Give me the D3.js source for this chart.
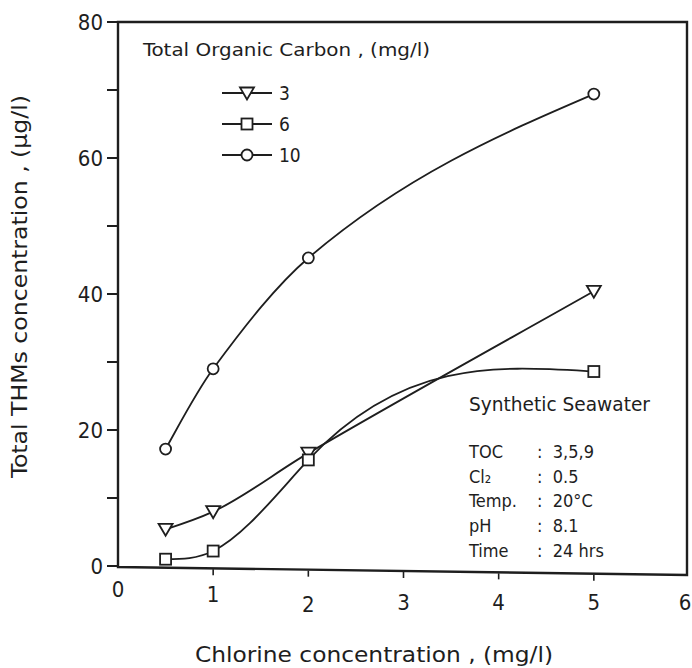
<!DOCTYPE html>
<html>
<head>
<meta charset="utf-8">
<script src="https://cdn.jsdelivr.net/npm/d3@7"></script>
<style>
  body { margin: 0; background: #fff; }
  text { font-family: "DejaVu Sans Condensed", "DejaVu Sans", sans-serif; fill: #1e1e1e; }
</style>
</head>
<body>
<script>
// data
let xTicks = [0, 1, 2, 3, 4, 5, 6];
let yTicks = [0, 20, 40, 60, 80];
let yMinor = [10, 30, 50, 70];
let seriesNames = ["3", "6", "10"];
let chlorine = [0.5, 1, 2, 5];
let toc3 = [5.4, 8.0, 16.6, 40.4];
let toc6 = [1.0, 2.2, 15.6, 28.6];
let toc10 = [17.2, 29.0, 45.3, 69.4];
// slope of the hand-drawn curve at each point (units of y per unit of x)
let toc3Slopes = [4.5, 6.5, 8.2, 7.9];
let toc6Slopes = [0, 7, 15, -0.8];
let toc10Slopes = [25, 19, 12, 6];
let infoTitle = "Synthetic Seawater";
let infoKeys = ["TOC", "Cl₂", "Temp.", "pH", "Time"];
let infoVals = [": 3,5,9", ": 0.5", ": 20°C", ": 8.1", ": 24 hrs"];

// layout
let svgWidth = 692, svgHeight = 668;
let x0 = 118, x1 = 689, yTop = 22, yBot = 566, frameRight = 687;
let botLeft = 567, botRight = 575; // the scanned frame is slightly tilted
let ink = "#1e1e1e";
// the scan has staggered x tick labels (baseline offsets below y = 0)
let xLabelDy = [31, 36, 46, 44, 44, 44, 44];

let svg = d3.select("body").append("svg")
  .attr("width", svgWidth)
  .attr("height", svgHeight);

let xScale = d3.scaleLinear().domain([0, 6]).range([x0, x1]);
let yScale = d3.scaleLinear().domain([0, 80]).range([yBot, yTop]);
let frameBottom = d3.scaleLinear().domain([x0, frameRight]).range([botLeft, botRight]);

// frame
svg.append("path")
  .attr("d", `M${x0},${yTop} H${frameRight} V${botRight} L${x0},${botLeft} Z`)
  .attr("fill", "none").attr("stroke", ink).attr("stroke-width", 2.4);

// y axis ticks
let yAxisG = svg.append("g");
yAxisG.selectAll("line").data(yTicks.concat(yMinor)).join("line")
  .attr("x1", x0 - 11).attr("x2", x0)
  .attr("y1", d => yScale(d)).attr("y2", d => yScale(d))
  .attr("stroke", ink).attr("stroke-width", 2);
yAxisG.selectAll("text").data(yTicks).join("text")
  .attr("x", x0 - 15)
  .attr("y", d => yScale(d) + 8)
  .attr("text-anchor", "end")
  .attr("font-size", 22)
  .text(d => d);

// x axis ticks
let xAxisG = svg.append("g");
xAxisG.selectAll("line").data(xTicks.slice(1, -1)).join("line")
  .attr("x1", d => xScale(d)).attr("x2", d => xScale(d))
  .attr("y1", d => frameBottom(xScale(d)) + 1).attr("y2", d => frameBottom(xScale(d)) + 7)
  .attr("stroke", ink).attr("stroke-width", 1.6);
xAxisG.selectAll("text").data(xTicks).join("text")
  .attr("x", d => Math.min(xScale(d), 685))
  .attr("y", (d, i) => yBot + xLabelDy[i])
  .attr("text-anchor", "middle")
  .attr("font-size", 22)
  .text(d => d);

// axis titles
svg.append("text")
  .attr("x", 195).attr("y", 662)
  .attr("font-size", 22)
  .attr("textLength", 358).attr("lengthAdjust", "spacingAndGlyphs")
  .text("Chlorine concentration , (mg/l)");
svg.append("text")
  .attr("transform", `translate(27, 478) rotate(-90)`)
  .attr("font-size", 21)
  .attr("textLength", 383).attr("lengthAdjust", "spacingAndGlyphs")
  .text("Total THMs concentration , (µg/l)");

// series
let series = [
  { name: seriesNames[0], values: toc3, slopes: toc3Slopes, marker: "tri" },
  { name: seriesNames[1], values: toc6, slopes: toc6Slopes, marker: "sq" },
  { name: seriesNames[2], values: toc10, slopes: toc10Slopes, marker: "circ" }
];

function drawMarker(g, kind) {
  if (kind === "tri") {
    g.append("path").attr("d", "M-7,-5.5 L7,-5.5 L0,6.5 Z");
  } else if (kind === "sq") {
    g.append("rect").attr("x", -5.5).attr("y", -5.5).attr("width", 11).attr("height", 11);
  } else {
    g.append("circle").attr("r", 5.5);
  }
  g.selectAll("*").attr("fill", "#fff").attr("stroke", ink).attr("stroke-width", 1.8);
}

// cubic Hermite through the points, using the given slopes
function hermitePath(xs, ys, ms) {
  let p = d3.path();
  p.moveTo(xScale(xs[0]), yScale(ys[0]));
  for (let i = 0; i < xs.length - 1; i++) {
    let h = xs[i + 1] - xs[i];
    p.bezierCurveTo(
      xScale(xs[i] + h / 3), yScale(ys[i] + ms[i] * h / 3),
      xScale(xs[i + 1] - h / 3), yScale(ys[i + 1] - ms[i + 1] * h / 3),
      xScale(xs[i + 1]), yScale(ys[i + 1]));
  }
  return p.toString();
}

series.forEach(s => {
  svg.append("path")
    .attr("d", hermitePath(chlorine, s.values, s.slopes))
    .attr("fill", "none")
    .attr("stroke", ink)
    .attr("stroke-width", 1.8);
});
series.forEach(s => {
  chlorine.forEach((c, i) => {
    let g = svg.append("g")
      .attr("transform", `translate(${xScale(c)}, ${yScale(s.values[i])})`);
    drawMarker(g, s.marker);
  });
});

// legend
let legend = svg.append("g");
legend.append("text")
  .attr("x", 143).attr("y", 56)
  .attr("font-size", 18)
  .attr("textLength", 287).attr("lengthAdjust", "spacingAndGlyphs")
  .text("Total Organic Carbon , (mg/l)");
series.forEach((s, i) => {
  let ly = 93 + i * 31;
  legend.append("line")
    .attr("x1", 222).attr("x2", 272)
    .attr("y1", ly).attr("y2", ly)
    .attr("stroke", ink).attr("stroke-width", 1.8);
  let g = legend.append("g").attr("transform", `translate(247, ${ly})`);
  drawMarker(g, s.marker);
  legend.append("text")
    .attr("x", 279).attr("y", ly + 7)
    .attr("font-size", 19)
    .text(s.name);
});

// conditions text
let info = svg.append("g");
info.append("text")
  .attr("x", 469).attr("y", 411)
  .attr("font-size", 20)
  .attr("textLength", 181).attr("lengthAdjust", "spacingAndGlyphs")
  .text(infoTitle);
infoKeys.forEach((k, i) => {
  let ty = 458 + i * 24.7;
  info.append("text").attr("x", 469).attr("y", ty)
    .attr("font-size", 18).text(k);
  info.append("text").attr("x", 537).attr("y", ty)
    .attr("font-size", 18).attr("xml:space", "preserve").text(infoVals[i].replace(":", ": "));
});
</script>
</body>
</html>
